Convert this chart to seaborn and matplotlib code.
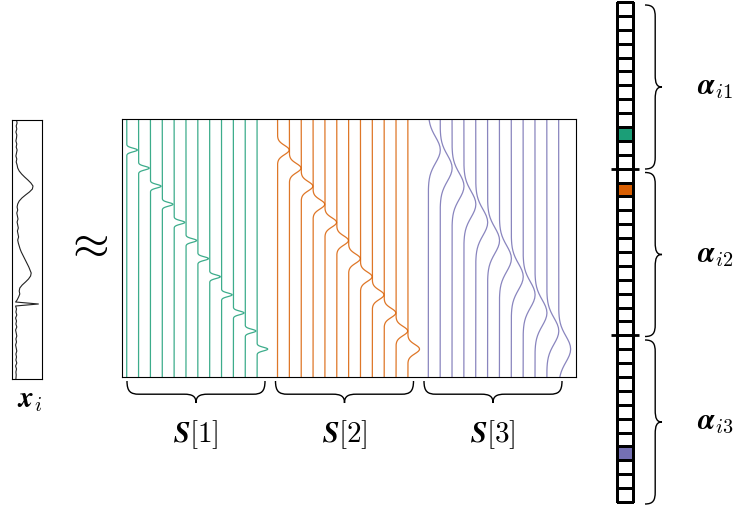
import numpy as np
import pandas as pd
import matplotlib
matplotlib.use("Agg")
import matplotlib.pyplot as plt
from matplotlib.colors import ListedColormap
from matplotlib.path import Path
from matplotlib.patches import PathPatch
import seaborn as sns

sns.set_theme(style="white")
plt.rcParams['mathtext.fontset'] = 'cm'
plt.rcParams['text.color'] = 'black'

# three sub-dictionaries S[1], S[2], S[3], 12 atoms each
group_names = ["S[1]", "S[2]", "S[3]"]
group_colors = ["#1b9e77", "#d95f02", "#7570b3"]
n_atoms = 12
group_widths = [1.8, 4.6, 13.0]     # bump width (px) in each group
group_amps = [10.7, 11.7, 12.0]     # bump height (px)

# shared bump profile, read at z = -3 .. 3
profile_z = [-3.0, -2.75, -2.5, -2.25, -2.0, -1.75, -1.5, -1.25, -1.0, -0.75, -0.5, -0.25, 0.0,
             0.25, 0.5, 0.75, 1.0, 1.25, 1.5, 1.75, 2.0, 2.25, 2.5, 2.75, 3.0]
profile_v = [0.011, 0.023, 0.044, 0.080, 0.135, 0.216, 0.325, 0.458, 0.607, 0.755, 0.883, 0.969, 1.0,
             0.969, 0.883, 0.755, 0.607, 0.458, 0.325, 0.216, 0.135, 0.080, 0.044, 0.023, 0.011]

# signal x_i : depth in box (px) and horizontal position (fraction of box width)
signal_y = [0, 3, 6, 9, 12, 15, 18, 21, 24, 27, 30, 33, 36, 39, 42, 45, 48, 51, 54, 57,
            60, 63, 66, 69, 72, 75, 78, 81, 84, 87, 90, 93, 96, 99, 102, 105, 108, 111, 114, 117,
            120, 123, 126, 129, 132, 135, 138, 141, 144, 147, 150, 153, 156, 159, 162, 165, 168, 171, 174, 177,
            180, 182, 184, 186, 189, 192, 195, 198, 201, 204, 207, 210, 213, 216, 219, 222, 225, 228, 231, 234,
            237, 240, 243, 246, 249, 252, 255, 259]
signal_x = [0.15, 0.17, 0.14, 0.16, 0.13, 0.16, 0.15, 0.13, 0.16, 0.14, 0.17, 0.15, 0.13, 0.16, 0.14, 0.17, 0.19, 0.24, 0.32, 0.42,
            0.53, 0.63, 0.70, 0.68, 0.58, 0.45, 0.33, 0.24, 0.19, 0.17, 0.19, 0.16, 0.18, 0.20, 0.17, 0.19, 0.21, 0.18, 0.20, 0.22,
            0.19, 0.21, 0.24, 0.27, 0.31, 0.36, 0.41, 0.46, 0.51, 0.56, 0.60, 0.64, 0.62, 0.55, 0.45, 0.34, 0.26, 0.24, 0.26, 0.22,
            0.17, 0.12, 0.88, 0.12, 0.15, 0.13, 0.16, 0.12, 0.15, 0.13, 0.16, 0.12, 0.14, 0.16, 0.13, 0.15, 0.12, 0.14, 0.16, 0.13,
            0.15, 0.13, 0.16, 0.12, 0.15, 0.13, 0.14, 0.13]

# coefficient vector alpha_i: 0 = zero, 1/2/3 = active atom of that group
coef_codes = [0, 0, 0, 0, 0, 0, 0, 0, 0, 1, 0, 0,
              0, 2, 0, 0, 0, 0, 0, 0, 0, 0, 0, 0,
              0, 0, 0, 0, 0, 0, 0, 0, 3, 0, 0, 0]

W, H = 742, 509
fig = plt.figure(figsize=(W / 100, H / 100), dpi=100)


def box(x0, y0, x1, y1):
    return [x0 / W, 1 - y1 / H, (x1 - x0) / W, (y1 - y0) / H]


def frame(ax):
    ax.set_xticks([])
    ax.set_yticks([])
    ax.set_xlabel("")
    ax.set_ylabel("")
    for s in ax.spines.values():
        s.set_visible(True)
        s.set_color("black")
        s.set_linewidth(0.8)


# signal
ax_x = fig.add_axes(box(12, 120, 42, 379))
sns.lineplot(x=signal_x, y=signal_y, sort=False, estimator=None, color="#222222", lw=0.8, ax=ax_x)
ax_x.set_xlim(0, 1)
ax_x.set_ylim(259, 0)
frame(ax_x)

# dictionary
box_w, box_h = 454, 258
rows = []
for g in range(3):
    for k in range(n_atoms):
        base = 4.7 + g * 150.8 + k * 11.85
        center = 31 + k * 18.1
        aid = g * n_atoms + k
        rows.append((base, -20.0, group_names[g], aid))
        for z, v in zip(profile_z, profile_v):
            rows.append((base + group_amps[g] * v, center + z * group_widths[g], group_names[g], aid))
        rows.append((base, box_h + 20.0, group_names[g], aid))
atoms = pd.DataFrame(rows, columns=["x", "y", "group", "atom"])

ax_S = fig.add_axes(box(122, 119, 576, 377))
sns.lineplot(data=atoms, x="x", y="y", hue="group", units="atom", estimator=None, sort=False,
             palette=group_colors, lw=0.9, alpha=0.85, legend=False, ax=ax_S)
ax_S.set_xlim(0, box_w)
ax_S.set_ylim(box_h, 0)
frame(ax_S)

# coefficients
ax_a = fig.add_axes(box(617, 2, 633, 502))
sns.heatmap(np.array(coef_codes).reshape(-1, 1), cmap=ListedColormap(["white"] + group_colors),
            vmin=-0.5, vmax=3.5, cbar=False, linewidths=0.9, linecolor="black",
            xticklabels=False, yticklabels=False, ax=ax_a)
ax_a.collections[0].set_clip_on(False)
ax_a.hlines([n_atoms, 2 * n_atoms], -0.4, 1.4, color="black", lw=2.0, clip_on=False)

# overlay for braces and labels
ov = fig.add_axes([0, 0, 1, 1])
ov.set_xlim(0, W)
ov.set_ylim(H, 0)
ov.axis("off")


def brace(a, b, c, depth, horizontal=True, r=12):
    m = (a + b) / 2
    q = depth * 0.6
    pts = [(a, c), (a, c + q * 0.8), (a + r * 0.3, c + q), (a + r, c + q),
           (m - r, c + q),
           (m - r * 0.3, c + q), (m, c + q * 1.15), (m, c + depth),
           (m, c + q * 1.15), (m + r * 0.3, c + q), (m + r, c + q),
           (b - r, c + q),
           (b - r * 0.3, c + q), (b, c + q * 0.8), (b, c)]
    if not horizontal:
        pts = [(p[1], p[0]) for p in pts]
    codes = [Path.MOVETO] + [Path.CURVE4] * 3 + [Path.LINETO] + [Path.CURVE4] * 6 + [Path.LINETO] + [Path.CURVE4] * 3
    ov.add_patch(PathPatch(Path(pts, codes), fc="none", ec="black", lw=1.0))


fs = 21
for g in range(3):
    a = 127 + g * 148.5
    brace(a, a + 138, 381, 22)
    ov.text(a + 69, 435, r"$\boldsymbol{S}[%d]$" % (g + 1), fontsize=fs, ha="center", va="center")

for g in range(3):
    a = 5 + g * 167.5
    brace(a, a + 164, 645, 17, horizontal=False)
    ov.text(715, a + 82, r"$\boldsymbol{\alpha}_{i%d}$" % (g + 1), fontsize=fs, ha="center", va="center")

ov.text(86, 245, r"$\approx$", fontsize=34, ha="center", va="center")
ov.text(30, 400, r"$\boldsymbol{x}_i$", fontsize=fs, ha="center", va="center")

fig.savefig("out.png", dpi=100)
